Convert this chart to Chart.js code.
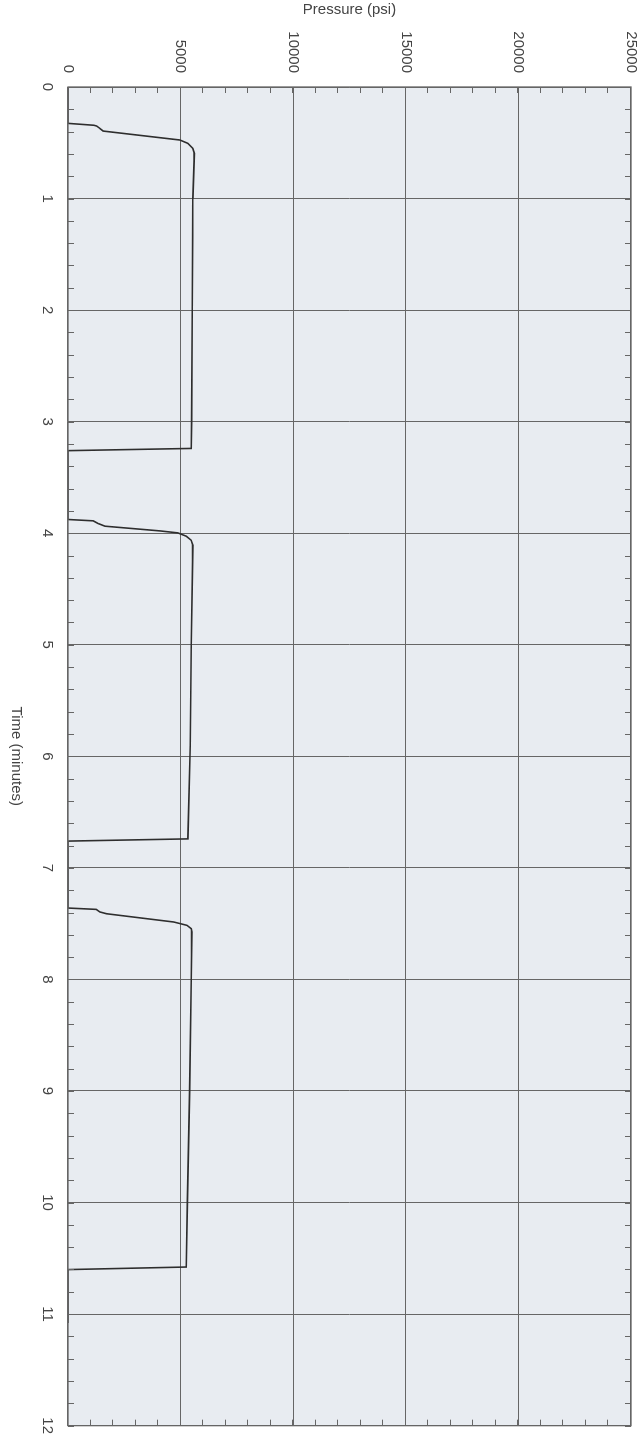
<!DOCTYPE html>
<html lang="en">
<head>
<meta charset="UTF-8">
<title>Pressure vs Time</title>
<style>
    html, body { margin: 0; padding: 0; background: #fff; overflow: hidden; }
    /* chart is drawn landscape, then turned a quarter clockwise like the scan */
    #Wrap {
        position: absolute; left: 0; top: 0;
        width: 1439px; height: 642px;
        transform-origin: 0 0;
        transform: translateX(642px) rotate(90deg);
    }
    /* canvas a bit bigger than the frame so the plot edge lands where the scan has it */
    #Grafico { position: absolute; left: 0; top: -12px; }
</style>
</head>
<body>
<div id="Wrap"><canvas id="Grafico" width="1446" height="654"></canvas></div>

<script src="https://cdn.jsdelivr.net/npm/chart.js"></script>
<script>
    // data
    const timeMin = [0, 0.326, 0.343, 0.350, 0.371, 0.395, 0.475, 0.505, 0.55, 0.595, 1, 2, 3, 3.24, 3.26,
        3.877, 3.889, 3.913, 3.937, 3.979, 3.997, 4.027, 4.063, 4.108, 5, 5.9, 6.74, 6.76,
        7.36, 7.372, 7.395, 7.411, 7.485, 7.515, 7.545, 7.575, 8, 9, 10, 10.578, 10.601, 11.08];
    const pressurePsi = [0, 0, 1150, 1270, 1415, 1560, 4960, 5320, 5545, 5610, 5545, 5515, 5490, 5470, 0,
        0, 1120, 1340, 1640, 4070, 4880, 5250, 5470, 5545, 5475, 5430, 5325, 0,
        0, 1250, 1415, 1710, 4690, 5280, 5475, 5500, 5475, 5400, 5300, 5250, 0, 0];

    const timeTicks = [0, 1, 2, 3, 4, 5, 6, 7, 8, 9, 10, 11, 12];
    const pressureTicks = [0, 5000, 10000, 15000, 20000, 25000];
    const minorTimeStep = 0.2;
    const minorPressureStep = 1000;

    const pontos = timeMin.map((t, i) => ({ x: t, y: pressurePsi[i] }));

    const corTexto = '#444';
    const corGrade = '#666';

    const fundoEBorda = {
        id: 'fundoEBorda',
        beforeDraw(chart) {
            const a = chart.chartArea;
            const ctx = chart.ctx;
            ctx.save();
            ctx.fillStyle = '#e8ecf1';
            ctx.fillRect(a.left, a.top, a.right - a.left, a.bottom - a.top);
            ctx.restore();
        },
        afterDraw(chart) {
            const a = chart.chartArea;
            const ctx = chart.ctx;
            const sx = chart.scales.x;
            const sy = chart.scales.y;
            const len = 6;
            ctx.save();
            ctx.strokeStyle = corGrade;
            ctx.lineWidth = 1;
            ctx.beginPath();
            // minor ticks along time, on both long edges, pointing in
            for (let t = sx.min; t <= sx.max + 1e-9; t += minorTimeStep) {
                const px = Math.round(sx.getPixelForValue(t)) + 0.5;
                ctx.moveTo(px, a.bottom); ctx.lineTo(px, a.bottom - len);
                ctx.moveTo(px, a.top); ctx.lineTo(px, a.top + len);
            }
            // minor ticks along pressure
            for (let p = sy.min; p <= sy.max + 1e-9; p += minorPressureStep) {
                const py = Math.round(sy.getPixelForValue(p)) + 0.5;
                ctx.moveTo(a.left, py); ctx.lineTo(a.left + len, py);
                ctx.moveTo(a.right, py); ctx.lineTo(a.right - len, py);
            }
            ctx.stroke();
            ctx.lineWidth = 1.3;
            ctx.strokeRect(a.left, a.top, a.right - a.left, a.bottom - a.top);
            ctx.restore();
        }
    };

    new Chart(document.getElementById('Grafico'), {
        type: 'scatter',
        data: {
            datasets: [{
                data: pontos,
                showLine: true,
                fill: false,
                borderColor: '#2e2e2e',
                borderWidth: 1.6,
                pointRadius: 0,
                tension: 0
            }]
        },
        options: {
            responsive: false,
            animation: false,
            layout: { padding: 0 },
            plugins: {
                legend: { display: false },
                tooltip: { enabled: false }
            },
            scales: {
                x: {
                    type: 'linear',
                    position: 'bottom',
                    min: 0,
                    max: 12,
                    afterBuildTicks: (s) => { s.ticks = timeTicks.map(v => ({ value: v })); },
                    afterFit: (s) => { s.height = 68; },
                    grid: { color: corGrade, lineWidth: 1, drawTicks: false },
                    border: { display: false },
                    ticks: {
                        padding: 12,
                        color: corTexto,
                        maxRotation: 0,
                        font: { family: 'Liberation Sans, Arial, sans-serif', size: 15 }
                    },
                    title: {
                        display: true,
                        text: 'Time (minutes)',
                        color: corTexto,
                        padding: { top: 0, bottom: 7 },
                        font: { family: 'Liberation Sans, Arial, sans-serif', size: 15 }
                    }
                },
                y: {
                    type: 'linear',
                    position: 'left',
                    min: 0,
                    max: 25000,
                    afterBuildTicks: (s) => { s.ticks = pressureTicks.map(v => ({ value: v })); },
                    afterFit: (s) => { s.width = 87; },
                    grid: { color: corGrade, lineWidth: 1, drawTicks: false },
                    border: { display: false },
                    ticks: {
                        padding: 14,
                        color: corTexto,
                        callback: (v) => String(v),
                        font: { family: 'Liberation Sans, Arial, sans-serif', size: 15 }
                    },
                    title: {
                        display: true,
                        text: 'Pressure (psi)',
                        color: corTexto,
                        padding: { top: 1, bottom: 0 },
                        font: { family: 'Liberation Sans, Arial, sans-serif', size: 15 }
                    }
                }
            }
        },
        plugins: [fundoEBorda]
    });
</script>
</body>
</html>
